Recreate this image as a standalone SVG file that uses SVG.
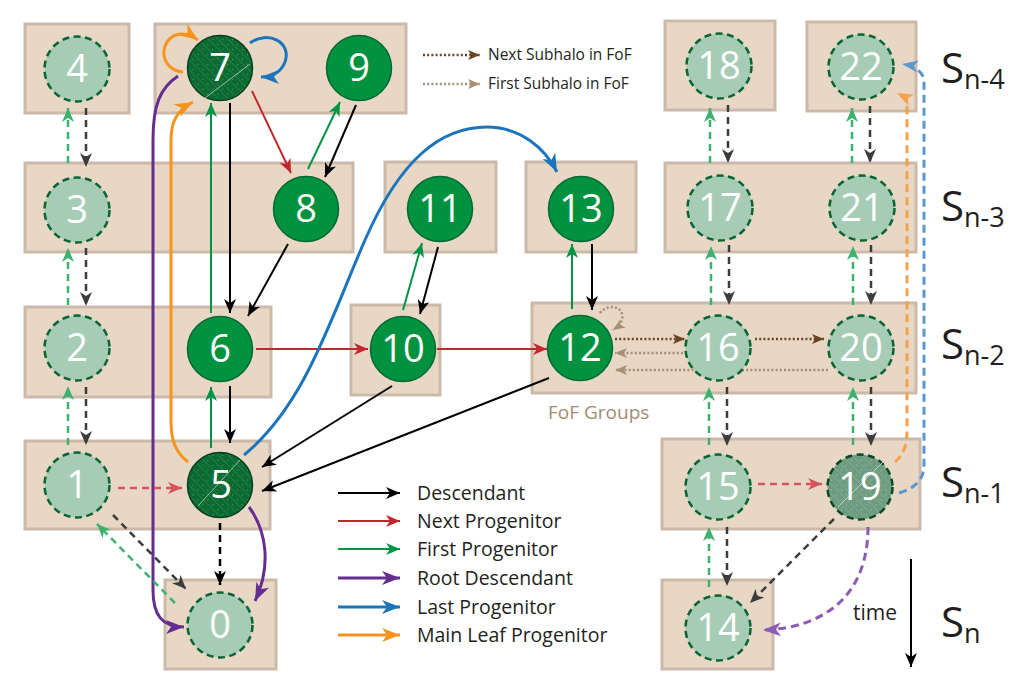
<svg xmlns="http://www.w3.org/2000/svg" width="1011" height="694" viewBox="0 0 1011 694">
<style>
.box{fill:#e8d7c5;stroke:#cbbaa9;stroke-width:3}
.solid{fill:#00923f;stroke:#006a32;stroke-width:1.5}
.ghost{fill:#a6ccb6;stroke:#0a6532;stroke-width:2.5;stroke-dasharray:7 4.5}
.hatch7{fill:url(#hatchDark);stroke:#063f1f;stroke-width:1.5}
.hatch19{fill:url(#hatchMuted);stroke:#0a4a26;stroke-width:2.5;stroke-dasharray:7 4.5}
.num{font-family:"Open Sans","Liberation Sans",sans-serif;font-size:38px;fill:#fff;text-anchor:middle}
.c{fill:none}
.k{stroke:#000;stroke-width:2}
.r{stroke:#c1272d;stroke-width:2}
.g{stroke:#009444;stroke-width:2}
.p{stroke:#662d91;stroke-width:3}
.b{stroke:#1c75bc;stroke-width:3}
.o{stroke:#f7941d;stroke-width:3}
.dk{stroke:#3c3c3c;stroke-width:2.5;stroke-dasharray:7 5}
.dk0{stroke:#000;stroke-width:2.5;stroke-dasharray:7 5}
.dg{stroke:#3db16e;stroke-width:2.5;stroke-dasharray:7 5}
.dr{stroke:#d6535d;stroke-width:2.5;stroke-dasharray:7 5}
.dp{stroke:#8c5cb3;stroke-width:3;stroke-dasharray:8 5}
.do{stroke:#f5a14b;stroke-width:3;stroke-dasharray:8 5}
.db{stroke:#5b97cf;stroke-width:3;stroke-dasharray:8 5}
.fn{stroke:#6b4423;stroke-width:2.5;stroke-dasharray:2 2.2}
.ff{stroke:#a88e74;stroke-width:2.5;stroke-dasharray:2 2.2}
.leg{font-family:"Open Sans","Liberation Sans",sans-serif;font-size:19.5px;fill:#231f20}
.leg2{font-family:"Open Sans","Liberation Sans",sans-serif;font-size:15.5px;fill:#231f20}
.snap{font-family:"Open Sans","Liberation Sans",sans-serif;fill:#231f20}
</style>
<defs>
<pattern id="hatchDark" width="7" height="7" patternUnits="userSpaceOnUse" patternTransform="rotate(-45)">
<rect width="7" height="7" fill="#0b6a31"/>
<line x1="0" y1="0" x2="0" y2="7" stroke="#3f8d5c" stroke-width="1"/>
<circle cx="3.5" cy="3.5" r="0.6" fill="#6faa86"/>
</pattern>
<pattern id="hatchMuted" width="7" height="7" patternUnits="userSpaceOnUse" patternTransform="rotate(-45)">
<rect width="7" height="7" fill="#6e9c80"/>
<line x1="0" y1="0" x2="0" y2="7" stroke="#8fb59d" stroke-width="1"/>
<circle cx="3.5" cy="3.5" r="0.6" fill="#b3cfbd"/>
</pattern>
<marker id="ak" viewBox="0 0 14 12" refX="14" refY="6" markerWidth="14" markerHeight="12" markerUnits="userSpaceOnUse" orient="auto"><path d="M0,0 L14,6 L0,12 L4,6 z" fill="#000"/></marker>
<marker id="ar" viewBox="0 0 14 12" refX="14" refY="6" markerWidth="14" markerHeight="12" markerUnits="userSpaceOnUse" orient="auto"><path d="M0,0 L14,6 L0,12 L4,6 z" fill="#c1272d"/></marker>
<marker id="ag" viewBox="0 0 14 12" refX="14" refY="6" markerWidth="14" markerHeight="12" markerUnits="userSpaceOnUse" orient="auto"><path d="M0,0 L14,6 L0,12 L4,6 z" fill="#009444"/></marker>
<marker id="ap" viewBox="0 0 18 14" refX="18" refY="7" markerWidth="18" markerHeight="14" markerUnits="userSpaceOnUse" orient="auto"><path d="M0,0 L18,7 L0,14 L5,7 z" fill="#662d91"/></marker>
<marker id="ab" viewBox="0 0 18 14" refX="18" refY="7" markerWidth="18" markerHeight="14" markerUnits="userSpaceOnUse" orient="auto"><path d="M0,0 L18,7 L0,14 L5,7 z" fill="#1c75bc"/></marker>
<marker id="ao" viewBox="0 0 18 14" refX="18" refY="7" markerWidth="18" markerHeight="14" markerUnits="userSpaceOnUse" orient="auto"><path d="M0,0 L18,7 L0,14 L5,7 z" fill="#f7941d"/></marker>
<marker id="adk" viewBox="0 0 14 12" refX="14" refY="6" markerWidth="14" markerHeight="12" markerUnits="userSpaceOnUse" orient="auto"><path d="M0,0 L14,6 L0,12 L4,6 z" fill="#3c3c3c"/></marker>
<marker id="adk0" viewBox="0 0 14 12" refX="14" refY="6" markerWidth="14" markerHeight="12" markerUnits="userSpaceOnUse" orient="auto"><path d="M0,0 L14,6 L0,12 L4,6 z" fill="#000"/></marker>
<marker id="adg" viewBox="0 0 14 12" refX="14" refY="6" markerWidth="14" markerHeight="12" markerUnits="userSpaceOnUse" orient="auto"><path d="M0,0 L14,6 L0,12 L4,6 z" fill="#3db16e"/></marker>
<marker id="adr" viewBox="0 0 14 12" refX="14" refY="6" markerWidth="14" markerHeight="12" markerUnits="userSpaceOnUse" orient="auto"><path d="M0,0 L14,6 L0,12 L4,6 z" fill="#d6535d"/></marker>
<marker id="adp" viewBox="0 0 18 14" refX="18" refY="7" markerWidth="18" markerHeight="14" markerUnits="userSpaceOnUse" orient="auto"><path d="M0,0 L18,7 L0,14 L5,7 z" fill="#8c5cb3"/></marker>
<marker id="ado" viewBox="0 0 16 12" refX="16" refY="6" markerWidth="16" markerHeight="12" markerUnits="userSpaceOnUse" orient="auto"><path d="M0,0 L16,6 L0,12 L4,6 z" fill="#f5a14b"/></marker>
<marker id="adb" viewBox="0 0 16 12" refX="16" refY="6" markerWidth="16" markerHeight="12" markerUnits="userSpaceOnUse" orient="auto"><path d="M0,0 L16,6 L0,12 L4,6 z" fill="#5b97cf"/></marker>
<marker id="afn" viewBox="0 0 12 10" refX="12" refY="5" markerWidth="12" markerHeight="10" markerUnits="userSpaceOnUse" orient="auto"><path d="M0,0 L12,5 L0,10 L3,5 z" fill="#6b4423"/></marker>
<marker id="aff" viewBox="0 0 12 10" refX="12" refY="5" markerWidth="12" markerHeight="10" markerUnits="userSpaceOnUse" orient="auto"><path d="M0,0 L12,5 L0,10 L3,5 z" fill="#a88e74"/></marker>
</defs>

<g id="snapshots">
<rect class="box" x="25" y="24" width="104" height="89"/>
<rect class="box" x="155" y="24" width="251" height="89"/>
<rect class="box" x="665" y="21" width="110" height="89"/>
<rect class="box" x="807" y="22" width="109" height="89"/>
<rect class="box" x="25" y="163" width="328" height="89"/>
<rect class="box" x="385" y="162" width="111" height="90"/>
<rect class="box" x="526" y="162" width="110" height="90"/>
<rect class="box" x="665" y="163" width="251" height="89"/>
<rect class="box" x="25" y="307" width="246" height="90"/>
<rect class="box" x="351" y="305" width="89" height="90"/>
<rect class="box" x="532" y="303" width="384" height="90"/>
<rect class="box" x="25" y="441" width="245" height="88"/>
<rect class="box" x="662" y="439" width="258" height="90"/>
<rect class="box" x="165" y="580" width="111" height="89"/>
<rect class="box" x="662" y="580" width="111" height="89"/>
</g>

<g id="connectors" class="c">
<path class="k" marker-end="url(#ak)" d="M230,103 L230,313"/>
<path class="k" marker-end="url(#ak)" d="M356,105 L325,177"/>
<path class="k" marker-end="url(#ak)" d="M288,244 L248,316"/>
<path class="k" marker-end="url(#ak)" d="M438,247 L420,314"/>
<path class="k" marker-end="url(#ak)" d="M592,244 L592,310"/>
<path class="k" marker-end="url(#ak)" d="M230,386 L230,443"/>
<path class="k" marker-end="url(#ak)" d="M392,386 L262,467"/>
<path class="k" marker-end="url(#ak)" d="M549,378 L262,491"/>
<path class="g" marker-end="url(#ag)" d="M211,313 L211,103"/>
<path class="g" marker-end="url(#ag)" d="M211,448 L211,387"/>
<path class="g" marker-end="url(#ag)" d="M308,169 L340,102"/>
<path class="g" marker-end="url(#ag)" d="M403,310 L422,243"/>
<path class="g" marker-end="url(#ag)" d="M572,309 L572,244"/>
<path class="r" marker-end="url(#ar)" d="M252,91 L291,173"/>
<path class="r" marker-end="url(#ar)" d="M256,349 L368,349"/>
<path class="r" marker-end="url(#ar)" d="M437,349 L547,349"/>
<path class="p" marker-end="url(#ap)" d="M178,76 C160,88 153,105 153,140 L153,590 C153,615 162,627 184,627"/>
<path class="p" marker-end="url(#ap)" d="M249,507 C266,530 272,565 255,601"/>
<path class="b" marker-end="url(#ab)" d="M244,455 C305,405 330,320 365,240 C400,160 440,127 487,127 C520,127 545,148 557,172"/>
<path class="b" marker-end="url(#ab)" d="M250,43 C268,30 292,42 285,62 C281,72 272,77 261,77"/>
<path class="o" marker-end="url(#ao)" d="M183,72 C160,70 158,42 176,35 C184,32 191,35 198,40"/>
<path class="o" marker-end="url(#ao)" d="M188,462 C175,452 171,440 171,420 L171,140 C171,120 178,110 193,102"/>
<path class="dk" marker-end="url(#adk)" d="M86,108 L86,167"/>
<path class="dk" marker-end="url(#adk)" d="M86,248 L86,306"/>
<path class="dk" marker-end="url(#adk)" d="M86,387 L86,445"/>
<path class="dk0" marker-end="url(#adk0)" d="M220,523 L220,585"/>
<path class="dk" marker-end="url(#adk)" d="M113,515 L186,589"/>
<path class="dk" marker-end="url(#adk)" d="M728,105 L728,163"/>
<path class="dk" marker-end="url(#adk)" d="M870,106 L870,163"/>
<path class="dk" marker-end="url(#adk)" d="M729,245 L729,305"/>
<path class="dk" marker-end="url(#adk)" d="M871,245 L871,305"/>
<path class="dk" marker-end="url(#adk)" d="M727,387 L727,446"/>
<path class="dk" marker-end="url(#adk)" d="M871,387 L871,446"/>
<path class="dk" marker-end="url(#adk)" d="M727,527 L727,586"/>
<path class="dk" marker-end="url(#adk)" d="M834,519 L750,603"/>
<path class="dg" marker-end="url(#adg)" d="M68,163 L68,108"/>
<path class="dg" marker-end="url(#adg)" d="M68,305 L68,248"/>
<path class="dg" marker-end="url(#adg)" d="M68,445 L68,386"/>
<path class="dg" marker-end="url(#adg)" d="M175,603 L97,524"/>
<path class="dg" marker-end="url(#adg)" d="M710,163 L710,108"/>
<path class="dg" marker-end="url(#adg)" d="M852,163 L852,108"/>
<path class="dg" marker-end="url(#adg)" d="M711,305 L711,246"/>
<path class="dg" marker-end="url(#adg)" d="M853,305 L853,246"/>
<path class="dg" marker-end="url(#adg)" d="M709,445 L709,387"/>
<path class="dg" marker-end="url(#adg)" d="M853,445 L853,387"/>
<path class="dg" marker-end="url(#adg)" d="M709,587 L709,527"/>
<path class="dr" marker-end="url(#adr)" d="M118,488 L182,488"/>
<path class="dr" marker-end="url(#adr)" d="M758,484 L822,484"/>
<path class="dp" marker-end="url(#adp)" d="M868,527 C868,595 825,628 763,630"/>
<path class="do" marker-end="url(#ado)" d="M895,462 C904,454 907,445 907,430 L907,108 C907,100 903,96 897,93"/>
<path class="db" marker-end="url(#adb)" d="M899,493 C915,488 924,480 924,465 L924,82 C924,72 915,66 902,64"/>
<path class="fn" marker-end="url(#afn)" d="M615,339 L685,339"/>
<path class="fn" marker-end="url(#afn)" d="M755,339 L824,339"/>
<path class="ff" marker-end="url(#aff)" d="M683,353 L615,353"/>
<path class="ff" marker-end="url(#aff)" d="M828,370 L615,370"/>
<path class="ff" marker-end="url(#aff)" d="M600,313 C606,305 620,305 622,314 C624,321 619,326 613,330"/>
</g>

<g id="node-0"><circle class="ghost" cx="220" cy="625" r="32.5"/><text class="num" x="220" y="638">0</text></g>
<g id="node-1"><circle class="ghost" cx="77" cy="485" r="32.5"/><text class="num" x="77" y="498">1</text></g>
<g id="node-2"><circle class="ghost" cx="77" cy="348" r="32.5"/><text class="num" x="77" y="361">2</text></g>
<g id="node-3"><circle class="ghost" cx="77" cy="210" r="32.5"/><text class="num" x="77" y="223">3</text></g>
<g id="node-4"><circle class="ghost" cx="77" cy="69" r="32.5"/><text class="num" x="77" y="82">4</text></g>
<g id="node-5"><circle class="hatch7" cx="220" cy="485" r="32.5"/><line x1="198" y1="506" x2="240" y2="460" stroke="#b9d6c4" stroke-width="0.8"/><text class="num" x="221" y="498">5</text></g>
<g id="node-6"><circle class="solid" cx="220" cy="349" r="32.5"/><text class="num" x="220" y="362">6</text></g>
<g id="node-7"><circle class="hatch7" cx="220" cy="68" r="32.5"/><line x1="205" y1="98" x2="250" y2="64" stroke="#b9d6c4" stroke-width="0.8"/><text class="num" x="220" y="81">7</text></g>
<g id="node-8"><circle class="solid" cx="306" cy="209" r="32.5"/><text class="num" x="306" y="222">8</text></g>
<g id="node-9"><circle class="solid" cx="359" cy="68" r="32.5"/><text class="num" x="359" y="81">9</text></g>
<g id="node-10"><circle class="solid" cx="403" cy="349" r="32.5"/><text class="num" x="403" y="362">10</text></g>
<g id="node-11"><circle class="solid" cx="440" cy="209" r="32.5"/><text class="num" x="440" y="222">11</text></g>
<g id="node-12"><circle class="solid" cx="580" cy="348" r="32.5"/><text class="num" x="580" y="361">12</text></g>
<g id="node-13"><circle class="solid" cx="581" cy="209" r="32.5"/><text class="num" x="581" y="222">13</text></g>
<g id="node-14"><circle class="ghost" cx="718" cy="628" r="32.5"/><text class="num" x="718" y="641">14</text></g>
<g id="node-15"><circle class="ghost" cx="718" cy="487" r="32.5"/><text class="num" x="718" y="500">15</text></g>
<g id="node-16"><circle class="ghost" cx="718" cy="348" r="32.5"/><text class="num" x="718" y="361">16</text></g>
<g id="node-17"><circle class="ghost" cx="720" cy="208" r="32.5"/><text class="num" x="720" y="221">17</text></g>
<g id="node-18"><circle class="ghost" cx="719" cy="66" r="32.5"/><text class="num" x="719" y="79">18</text></g>
<g id="node-19"><circle class="hatch19" cx="860" cy="487" r="32.5"/><line x1="838" y1="507" x2="883" y2="462" stroke="#cfe1d5" stroke-width="0.8"/><text class="num" x="860" y="500">19</text></g>
<g id="node-20"><circle class="ghost" cx="861" cy="348" r="32.5"/><text class="num" x="861" y="361">20</text></g>
<g id="node-21"><circle class="ghost" cx="862" cy="208" r="32.5"/><text class="num" x="862" y="221">21</text></g>
<g id="node-22"><circle class="ghost" cx="861" cy="67" r="32.5"/><text class="num" x="861" y="80">22</text></g>

<g id="legend">
<path class="c k" marker-end="url(#ak)" d="M338,493 L400,493"/>
<path class="c r" marker-end="url(#ar)" d="M338,521 L400,521"/>
<path class="c g" marker-end="url(#ag)" d="M338,549 L400,549"/>
<path class="c p" marker-end="url(#ap)" d="M338,578 L400,578"/>
<path class="c b" marker-end="url(#ab)" d="M338,607 L400,607"/>
<path class="c o" marker-end="url(#ao)" d="M338,635 L400,635"/>
<text class="leg" x="417" y="500">Descendant</text>
<text class="leg" x="417" y="528">Next Progenitor</text>
<text class="leg" x="417" y="556">First Progenitor</text>
<text class="leg" x="417" y="585">Root Descendant</text>
<text class="leg" x="417" y="614">Last Progenitor</text>
<text class="leg" x="417" y="642">Main Leaf Progenitor</text>
<path class="c fn" marker-end="url(#afn)" d="M423,55 L480,55"/>
<path class="c ff" marker-end="url(#aff)" d="M423,84 L480,84"/>
<text class="leg2" x="488" y="60">Next Subhalo in FoF</text>
<text class="leg2" x="488" y="89">First Subhalo in FoF</text>
<text x="548" y="419" font-family="Open Sans, Liberation Sans, sans-serif" font-size="19" fill="#a38b73">FoF Groups</text>
</g>

<g id="time-axis">
<path class="c k" marker-end="url(#ak)" d="M911,559 L911,667"/>
<text class="snap" x="853" y="620" font-size="21">time</text>
<text class="snap" x="941" y="83" font-size="42">S<tspan font-size="27" dy="6">n-4</tspan></text>
<text class="snap" x="941" y="221" font-size="42">S<tspan font-size="27" dy="6">n-3</tspan></text>
<text class="snap" x="941" y="359" font-size="42">S<tspan font-size="27" dy="6">n-2</tspan></text>
<text class="snap" x="941" y="497" font-size="42">S<tspan font-size="27" dy="6">n-1</tspan></text>
<text class="snap" x="941" y="637" font-size="42">S<tspan font-size="27" dy="6">n</tspan></text>
</g>
</svg>
